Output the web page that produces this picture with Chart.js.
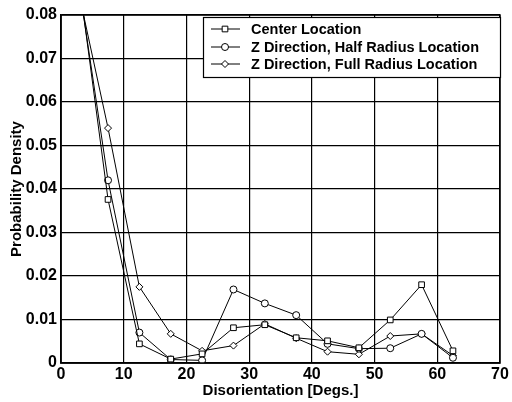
<!DOCTYPE html>
<html>
<head>
<meta charset="utf-8">
<script src="https://cdn.jsdelivr.net/npm/chart.js@4/dist/chart.umd.min.js"></script>
<style>
	body { margin: 0; background: #fff; }
	#wrap { width: 512px; height: 402px; }
</style>
</head>
<body>
<div id="wrap"><canvas id="disChart" width="512" height="402"></canvas></div>
<script>
// Sudut disorientasi (titik tengah kelas 5 derajat)
const sudut = [2.5, 7.5, 12.5, 17.5, 22.5, 27.5, 32.5, 37.5, 42.5, 47.5, 52.5, 57.5, 62.5];

// Nilai densitas probabilitas untuk tiap lokasi
const pusat = [0.092, 0.0376, 0.0044, 0.0009, 0.0021, 0.0081, 0.0088, 0.0058, 0.0051, 0.0035, 0.0099, 0.018, 0.0028];
const setengahRadius = [0.0905, 0.042, 0.007, 0.0008, 0.0006, 0.0169, 0.0137, 0.011, 0.0044, 0.0033, 0.0034, 0.0067, 0.0012];
const penuhRadius = [0.0873, 0.054, 0.0175, 0.0067, 0.0028, 0.004, 0.009, 0.0057, 0.0026, 0.002, 0.0062, 0.0067, 0.0017];

const labelSeri = [
	"Center Location",
	"Z Direction, Half Radius Location",
	"Z Direction, Full Radius Location",
];

const FONT = "'Liberation Sans', Arial, sans-serif";

function titik(ys) {
	return sudut.map((x, i) => ({ x: x, y: ys[i] }));
}

function seri(label, ys, style) {
	return {
		label: label,
		data: titik(ys),
		showLine: true,
		borderColor: "#000",
		borderWidth: 1,
		backgroundColor: "#fff",
		pointStyle: style,
		pointRadius: style === "rect" ? 4 : 3.5,
		pointBorderColor: "#000",
		pointBackgroundColor: "#fff",
		pointBorderWidth: 1,
		clip: 0,
	};
}

// Bingkai area plot + legenda di dalam kotak
const bingkaiLegenda = {
	id: "bingkaiLegenda",
	afterDatasetsDraw(chart) {
		const { ctx, chartArea: a } = chart;
		ctx.save();
		ctx.strokeStyle = "#000";
		ctx.lineWidth = 1.5;
		ctx.strokeRect(a.left, a.top, a.right - a.left, a.bottom - a.top);
		ctx.restore();
	},
	afterDraw(chart) {
		const { ctx } = chart;
		const bx = 203, by = 17, bw = 297, bh = 60;
		ctx.save();
		ctx.fillStyle = "#fff";
		ctx.fillRect(bx, by, bw, bh);
		ctx.strokeStyle = "#000";
		ctx.lineWidth = 1.2;
		ctx.strokeRect(bx + 0.5, by + 0.5, bw, bh);

		const barisY = [29, 47, 64];
		chart.data.datasets.forEach((ds, i) => {
			const y = barisY[i];
			ctx.strokeStyle = "#000";
			ctx.lineWidth = 1;
			ctx.beginPath();
			ctx.moveTo(211, y);
			ctx.lineTo(240, y);
			ctx.stroke();
			// isi marker putih, garis hitam
			ctx.fillStyle = "#fff";
			Chart.helpers.drawPoint(ctx, {
				pointStyle: ds.pointStyle,
				radius: ds.pointRadius,
				borderWidth: 1,
				rotation: 0,
			}, 225, y);
			ctx.fillStyle = "#000";
			ctx.font = "bold 14.5px " + FONT;
			ctx.textBaseline = "middle";
			ctx.textAlign = "left";
			ctx.fillText(ds.label, 251, y + 1);
		});
		ctx.restore();
	},
};

document.addEventListener("DOMContentLoaded", function () {
	const ctx = document.getElementById("disChart");
	new Chart(ctx, {
		type: "scatter",
		data: {
			datasets: [
				seri(labelSeri[0], pusat, "rect"),
				seri(labelSeri[1], setengahRadius, "circle"),
				seri(labelSeri[2], penuhRadius, "rectRot"),
			],
		},
		options: {
			responsive: false,
			animation: false,
			layout: { padding: { left: 0, top: 15, right: 12, bottom: 0 } },
			plugins: {
				legend: { display: false },
				tooltip: { enabled: false },
			},
			scales: {
				x: {
					type: "linear",
					min: 0,
					max: 70,
					afterFit: (s) => { s.height = 39; },
					grid: { color: "#000", lineWidth: 1.2, drawTicks: false },
					border: { color: "#000", width: 1.5 },
					ticks: {
						stepSize: 10,
						padding: 2,
						color: "#000",
						font: { family: FONT, size: 16, weight: "bold" },
					},
					title: {
						display: true,
						text: "Disorientation [Degs.]",
						color: "#000",
						font: { family: FONT, size: 15, weight: "bold" },
						padding: { top: 0, bottom: 2 },
					},
				},
				y: {
					min: 0,
					max: 0.08,
					afterFit: (s) => { s.width = 61; },
					grid: { color: "#000", lineWidth: 1.2, drawTicks: false },
					border: { color: "#000", width: 1.5 },
					ticks: {
						stepSize: 0.01,
						padding: 4,
						color: "#000",
						font: { family: FONT, size: 16, weight: "bold" },
						callback: function (v) {
							const r = Math.round(v * 100) / 100;
							return r === 0 ? "0" : r.toFixed(2);
						},
					},
					title: {
						display: true,
						text: "Probability Density",
						color: "#000",
						font: { family: FONT, size: 15, weight: "bold" },
						padding: { top: 8, bottom: 0 },
					},
				},
			},
		},
		plugins: [bingkaiLegenda],
	});
});
</script>
</body>
</html>
